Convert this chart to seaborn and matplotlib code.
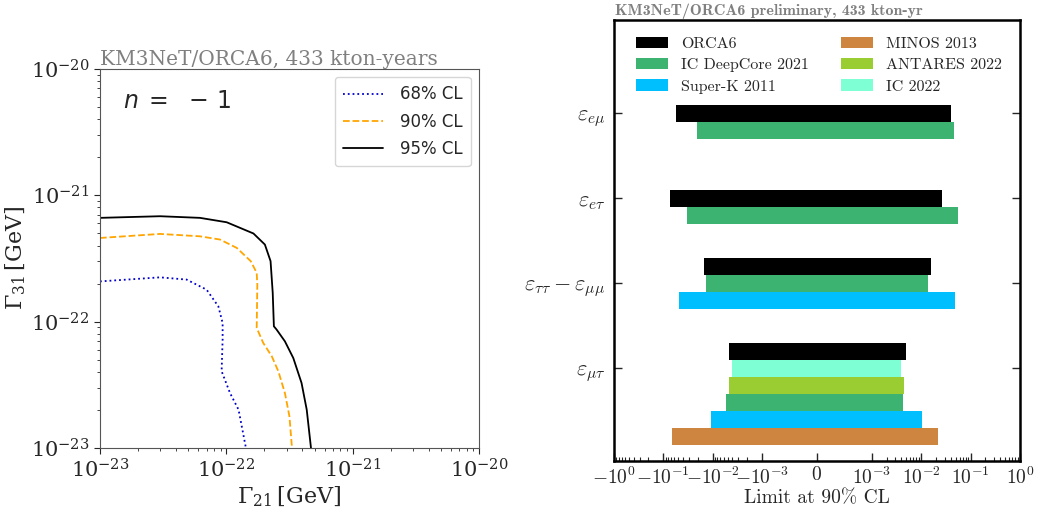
import numpy as np
import pandas as pd
import matplotlib
matplotlib.use("Agg")
import matplotlib.pyplot as plt
import matplotlib.ticker as mticker
from matplotlib.patches import Patch
import seaborn as sns

# ---- left panel: decay contours (Gamma21 vs Gamma31), n = -1 ----
cl95_x = [1.0e-23, 2.99e-23, 6.19e-23, 1.007e-22, 1.64e-22, 2.02e-22, 2.24e-22, 2.33e-22,
          2.38e-22, 2.50e-22, 2.91e-22, 3.39e-22, 3.94e-22, 4.33e-22, 4.68e-22]
cl95_y = [6.62e-22, 6.82e-22, 6.62e-22, 6.11e-22, 4.98e-22, 4.07e-22, 3.01e-22, 1.69e-22,
          9.18e-23, 8.65e-23, 6.98e-23, 5.15e-23, 3.27e-23, 2.01e-23, 1.0e-23]
cl90_x = [1.0e-23, 2.99e-23, 6.19e-23, 8.91e-23, 1.21e-22, 1.56e-22, 1.74e-22, 1.76e-22,
          1.74e-22, 1.96e-22, 2.29e-22, 2.58e-22, 2.91e-22, 3.16e-22, 3.31e-22]
cl90_y = [4.59e-22, 4.94e-22, 4.73e-22, 4.46e-22, 3.83e-22, 3.01e-22, 2.43e-22, 1.96e-22,
          8.91e-23, 6.78e-23, 5.32e-23, 4.05e-23, 2.72e-23, 1.78e-23, 1.0e-23]
cl68_x = [1.0e-23, 2.99e-23, 4.85e-23, 6.98e-23, 8.65e-23, 9.35e-23, 9.35e-23, 9.18e-23,
          1.07e-22, 1.25e-22, 1.43e-22]
cl68_y = [2.08e-22, 2.24e-22, 2.15e-22, 1.79e-22, 1.32e-22, 9.75e-23, 7.21e-23, 4.05e-23,
          2.72e-23, 2.01e-23, 1.0e-23]

# ---- right panel: NSI limits at 90% CL ----
params = [r"$\varepsilon_{e\mu}$", r"$\varepsilon_{e\tau}$",
          r"$\varepsilon_{\tau\tau}-\varepsilon_{\mu\mu}$", r"$\varepsilon_{\mu\tau}$"]
experiments = ["ORCA6", "IC DeepCore 2021", "Super-K 2011",
               "MINOS 2013", "ANTARES 2022", "IC 2022"]
colors = ["black", "#3CB371", "#00BFFF", "#CD853F", "#9ACD32", "#7FFFD4"]

orca6_lo = [-0.054, -0.074, -0.0149, -0.0047]
orca6_hi = [0.040, 0.027, 0.0156, 0.0050]
deepcore_lo = [-0.021, -0.033, -0.0135, -0.0054]
deepcore_hi = [0.047, 0.056, 0.0139, 0.0043]
superk_lo = [None, None, -0.048, -0.0109]
superk_hi = [None, None, 0.048, 0.0105]
minos_lo = [None, None, None, -0.067]
minos_hi = [None, None, None, 0.022]
antares_lo = [None, None, None, -0.0047]
antares_hi = [None, None, None, 0.0046]
ic2022_lo = [None, None, None, -0.0041]
ic2022_hi = [None, None, None, 0.0040]

# bar order inside each group, top to bottom
group_order = [
    ["ORCA6", "IC DeepCore 2021"],
    ["ORCA6", "IC DeepCore 2021"],
    ["ORCA6", "IC DeepCore 2021", "Super-K 2011"],
    ["ORCA6", "IC 2022", "ANTARES 2022", "IC DeepCore 2021", "Super-K 2011", "MINOS 2013"],
]

limits = {
    "ORCA6": (orca6_lo, orca6_hi),
    "IC DeepCore 2021": (deepcore_lo, deepcore_hi),
    "Super-K 2011": (superk_lo, superk_hi),
    "MINOS 2013": (minos_lo, minos_hi),
    "ANTARES 2022": (antares_lo, antares_hi),
    "IC 2022": (ic2022_lo, ic2022_hi),
}

rows = []
for i, order in enumerate(group_order):
    shift = 0 if len(order) <= 2 else 1
    for j, exp in enumerate(order):
        lo, hi = limits[exp]
        rows.append({"param": i, "exp": exp, "lo": lo[i], "hi": hi[i],
                     "pos": i + 0.2 * (j - shift)})
nsi = pd.DataFrame(rows)

sns.set_style("ticks")
plt.rcParams.update({
    "font.family": ["DejaVu Serif"],
    "mathtext.fontset": "dejavuserif",
})

fig = plt.figure(figsize=(10.37, 5.11), dpi=100)

# ---------------- left ----------------
ax1 = fig.add_axes([0.0964, 0.1233, 0.3655, 0.742])
curves = [
    (cl68_x, cl68_y, "68% CL", "#0000CD", ":"),
    (cl90_x, cl90_y, "90% CL", "#FFA500", "--"),
    (cl95_x, cl95_y, "95% CL", "black", "-"),
]
for xs, ys, lab, col, ls in curves:
    sns.lineplot(x=xs, y=ys, ax=ax1, sort=False, estimator=None, color=col,
                 linestyle=ls, linewidth=1.3, label=lab)
ax1.set_xscale("log")
ax1.set_yscale("log")
ax1.set_xlim(1e-23, 1e-20)
ax1.set_ylim(1e-23, 1e-20)
ax1.tick_params(axis="both", which="major", labelsize=15, length=4)
ax1.tick_params(axis="both", which="minor", length=2)
for sp in ax1.spines.values():
    sp.set_color("#555555")
ax1.set_xlabel(r"$\Gamma_{21}\,[\mathrm{GeV}]$", fontsize=16, labelpad=2)
ax1.set_ylabel(r"$\Gamma_{31}\,[\mathrm{GeV}]$", fontsize=16, labelpad=2)
ax1.set_title("KM3NeT/ORCA6, 433 kton-years", loc="left", color="gray",
              fontsize=14.5, pad=3)
ax1.text(0.06, 0.915, r"$n\;=\;\,-\,1$", transform=ax1.transAxes, fontsize=17,
         math_fontfamily="dejavusans", va="center")
leg = ax1.legend(loc="upper right", prop={"family": "DejaVu Sans", "size": 12},
                 handlelength=2.4, handletextpad=1.0, borderpad=0.5, labelspacing=0.55)

# ---------------- right ----------------
ax2 = fig.add_axes([0.592, 0.0984, 0.3915, 0.8624])
for exp, col in zip(experiments, colors):
    sub = nsi[nsi["exp"] == exp]
    ax2.barh(sub["pos"], sub["hi"] - sub["lo"], left=sub["lo"], height=0.2,
             color=col, edgecolor="none")
ax2.set_xscale("symlog", linthresh=1e-3, linscale=1)
ax2.set_xlim(-1, 1)
ax2.set_ylim(4.087, -1.098)

xt = [-1, -0.1, -0.01, -0.001, 0, 0.001, 0.01, 0.1, 1]
xtl = [r"$-10^{0}$", r"$-10^{-1}$", r"$-10^{-2}$", r"$-10^{-3}$", r"$0$",
       r"$10^{-3}$", r"$10^{-2}$", r"$10^{-1}$", r"$10^{0}$"]
ax2.xaxis.set_major_locator(mticker.FixedLocator(xt))
ax2.xaxis.set_major_formatter(mticker.FixedFormatter(xtl))
minor = [s * m * 10.0 ** k for s in (-1, 1) for k in (-3, -2, -1) for m in range(2, 10)]
ax2.xaxis.set_minor_locator(mticker.FixedLocator(minor))
ax2.set_yticks(range(len(params)))
ax2.set_yticklabels(params)
for lab in ax2.get_xticklabels() + ax2.get_yticklabels():
    lab.set_math_fontfamily("cm")
ax2.tick_params(axis="x", which="major", direction="in", length=6, width=1,
                labelsize=14, pad=4, top=False)
ax2.tick_params(axis="x", which="minor", direction="in", length=3, width=0.8, top=False)
ax2.tick_params(axis="y", which="major", direction="in", length=6, width=1,
                labelsize=16, right=True, pad=6)
for sp in ax2.spines.values():
    sp.set_color("black")
    sp.set_linewidth(1.8)
ax2.set_xlabel("Limit at 90% CL", fontfamily="cmr10", fontsize=14, labelpad=1)

handles = [Patch(facecolor=c, edgecolor="none") for c in colors]
ax2.legend(handles, experiments, loc="upper left", ncol=2, frameon=False,
           prop={"family": "cmr10", "size": 11.5}, handlelength=2.0, handleheight=0.7,
           handletextpad=0.8, columnspacing=2.0, labelspacing=0.45,
           bbox_to_anchor=(0.02, 0.995))
fig.text(0.593, 0.978, "KM3NeT/ORCA6 preliminary, 433 kton-yr", color="gray",
         fontfamily="cmb10", fontsize=11.5, va="center", ha="left")

fig.savefig("out.png", dpi=100)
